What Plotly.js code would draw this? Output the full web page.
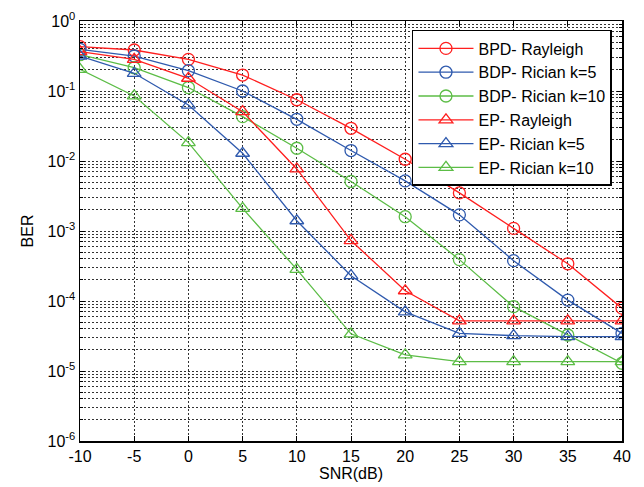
<!DOCTYPE html>
<html>
<head>
<meta charset="utf-8">
<script src="https://cdn.plot.ly/plotly-3.0.1.min.js"></script>
<style>html,body{margin:0;padding:0;background:#fff;}#chart{width:644px;height:487px;}</style>
</head>
<body>
<div id="chart"></div>
<script>
const snr = [-10, -5, 0, 5, 10, 15, 20, 25, 30, 35, 40];
const bpdRayleigh = [0.43, 0.385, 0.283, 0.169, 0.075, 0.0293, 0.0106, 0.0035, 0.00109, 0.00034, 7.9e-5];
const bdpRician5 = [0.394, 0.316, 0.195, 0.1, 0.0394, 0.0141, 0.0052, 0.0017, 3.77e-4, 1.03e-4, 3.45e-5];
const bdpRician10 = [0.33, 0.215, 0.112, 0.043, 0.0152, 0.0051, 0.0016, 3.9e-4, 8.3e-5, 3.27e-5, 1.29e-5];
const epRayleigh = [0.365, 0.283, 0.152, 0.0507, 0.0077, 7.3e-4, 1.4e-4, 5.2e-5, 5.2e-5, 5.2e-5, 5.2e-5];
const epRician5 = [0.316, 0.179, 0.063, 0.0129, 0.0014, 2.3e-4, 7.0e-5, 3.45e-5, 3.2e-5, 3.1e-5, 3.1e-5];
const epRician10 = [0.204, 0.085, 0.0183, 0.0021, 2.83e-4, 3.4e-5, 1.7e-5, 1.36e-5, 1.36e-5, 1.36e-5, 1.36e-5];

const seriesNames = ['BPD- Rayleigh', 'BDP- Rician k=5', 'BDP- Rician k=10', 'EP- Rayleigh', 'EP- Rician k=5', 'EP- Rician k=10'];
const seriesValues = [bpdRayleigh, bdpRician5, bdpRician10, epRayleigh, epRician5, epRician10];

const yTickVals = [1, 0.1, 0.01, 0.001, 0.0001, 0.00001, 0.000001];
const yTickText = ['10<sup>0</sup>', '10<sup>-1</sup>', '10<sup>-2</sup>', '10<sup>-3</sup>', '10<sup>-4</sup>', '10<sup>-5</sup>', '10<sup>-6</sup>'];
const xTickVals = [-10, -5, 0, 5, 10, 15, 20, 25, 30, 35, 40];
const xTickText = ['-10', '-5', '0', '5', '10', '15', '20', '25', '30', '35', '40'];

const RED = '#ff1f1f', BLUE = '#2f5aae', GREEN = '#5cbd46';
const colors = [RED, BLUE, GREEN, RED, BLUE, GREEN];
const symbols = ['circle-open', 'circle-open', 'circle-open', 'triangle-up-open', 'triangle-up-open', 'triangle-up-open'];

const traces = seriesValues.map((vals, i) => ({
  x: snr, y: vals, name: seriesNames[i], type: 'scatter', mode: 'lines+markers',
  line: {color: colors[i], width: 1.3},
  marker: {symbol: symbols[i], size: 12, color: colors[i], line: {width: 1.3, color: colors[i]}}
}));

// minor log grid positions (2..9 within each decade)
const minorVals = [];
for (let e = -6; e < 0; e++) for (let m = 2; m <= 9; m++) minorVals.push(m * Math.pow(10, e));

const FONT = 'Arial, "Liberation Sans", sans-serif';
const gridDash = '2px,2px';

const layout = {
  width: 644, height: 487,
  margin: {l: 80, r: 22, t: 21, b: 46},
  paper_bgcolor: '#fff', plot_bgcolor: '#fff',
  font: {family: FONT, size: 16, color: '#000'},
  showlegend: true,
  legend: {
    x: 0.6125, y: 0.9786, xanchor: 'left', yanchor: 'top',
    bgcolor: '#fff', bordercolor: '#000', borderwidth: 1.5,
    font: {family: FONT, size: 16, color: '#000'},
    itemwidth: 55, tracegroupgap: 0
  },
  xaxis: {
    type: 'linear', range: [-10, 40], tickmode: 'array', tickvals: xTickVals, ticktext: xTickText,
    showline: true, linecolor: '#000', linewidth: 1.5, mirror: 'allticks',
    ticks: 'inside', ticklen: 5, tickcolor: '#000',
    showgrid: true, gridcolor: '#333', gridwidth: 1, griddash: gridDash,
    zeroline: false,
    tickfont: {family: FONT, size: 16, color: '#000'},
    title: {text: 'SNR(dB)', font: {family: FONT, size: 16, color: '#000'}, standoff: 4}
  },
  yaxis: {
    type: 'log', range: [-6, 0], tickmode: 'array', tickvals: yTickVals, ticktext: yTickText,
    showline: true, linecolor: '#000', linewidth: 1.5, mirror: 'allticks',
    ticks: 'inside', ticklen: 5, tickcolor: '#000',
    showgrid: true, gridcolor: '#333', gridwidth: 1, griddash: gridDash,
    zeroline: false,
    tickfont: {family: FONT, size: 16, color: '#000'},
    minor: {tickmode: 'array', tickvals: minorVals, ticks: 'inside', ticklen: 3, tickcolor: '#000',
            showgrid: true, gridcolor: '#333', gridwidth: 1, griddash: gridDash},
    title: {text: 'BER', font: {family: FONT, size: 16, color: '#000'}, standoff: 10}
  }
};

Plotly.newPlot('chart', traces, layout, {staticPlot: true, displayModeBar: false});
</script>
</body>
</html>
